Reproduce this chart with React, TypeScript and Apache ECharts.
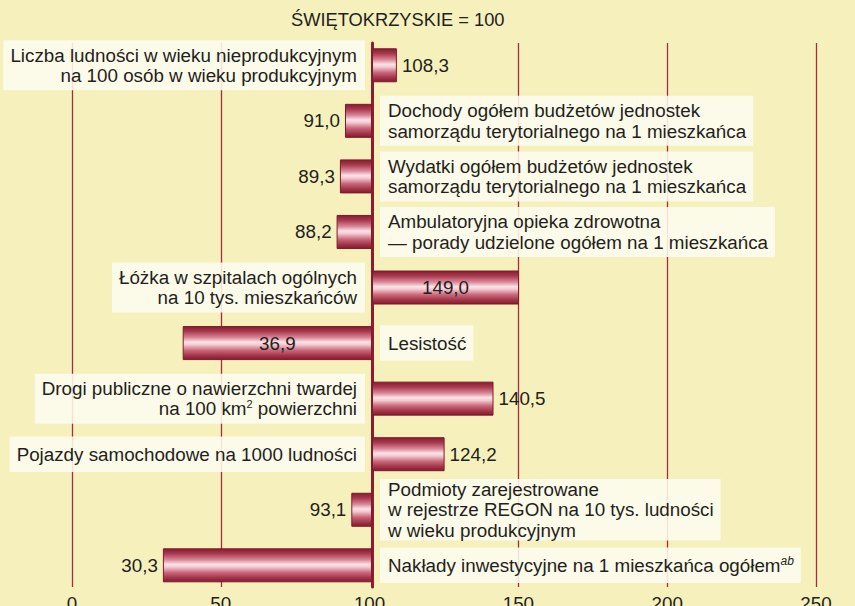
import React, { useEffect, useRef } from "react";
import * as echarts from "echarts";

const TITLE = "ŚWIĘTOKRZYSKIE = 100";
const BASE = 100;
const categories = [
  "Liczba ludności w wieku nieprodukcyjnym\nna 100 osób w wieku produkcyjnym",
  "Dochody ogółem budżetów jednostek\nsamorządu terytorialnego na 1 mieszkańca",
  "Wydatki ogółem budżetów jednostek\nsamorządu terytorialnego na 1 mieszkańca",
  "Ambulatoryjna opieka zdrowotna\n— porady udzielone ogółem na 1 mieszkańca",
  "Łóżka w szpitalach ogólnych\nna 10 tys. mieszkańców",
  "Lesistość",
  "Drogi publiczne o nawierzchni twardej\nna 100 km{sup|2} powierzchni",
  "Pojazdy samochodowe na 1000 ludności",
  "Podmioty zarejestrowane\nw rejestrze REGON na 10 tys. ludności\nw wieku produkcyjnym",
  "Nakłady inwestycyjne na 1 mieszkańca ogółem{supi|ab}",
];
const values = [108.3, 91.0, 89.3, 88.2, 149.0, 36.9, 140.5, 124.2, 93.1, 30.3];
const xTicks = [0, 50, 100, 150, 200, 250];

// value labels drawn inside the bar (layout choice)
const INSIDE = new Set([4, 5]);

const TEXT = "#231f20";
const BG = "#f6f0bc";
const BOX = "rgba(253,251,238,0.88)";
const GRID_RED = "#a0303d";
const AXIS_RED = "#8c1d2e";
const FONT = "'Liberation Sans', Arial, Helvetica, sans-serif";
const FS = 18.8;

const barGradient = new echarts.graphic.LinearGradient(0, 0, 0, 1, [
  { offset: 0, color: "#861c30" },
  { offset: 0.15, color: "#a93a50" },
  { offset: 0.33, color: "#d98596" },
  { offset: 0.47, color: "#fbe2e6" },
  { offset: 0.55, color: "#f4cbd2" },
  { offset: 0.72, color: "#c9677a" },
  { offset: 0.88, color: "#a23449" },
  { offset: 1, color: "#831b2f" },
]);

export default function App() {
  const ref = useRef<HTMLDivElement>(null);
  useEffect(() => {
    if (!ref.current) return;
    const chart = echarts.init(ref.current, null, { renderer: "svg" });
    const fmt = (v: number) => v.toFixed(1).replace(".", ",");
    const offsets = values.map((v) => +(v - BASE).toFixed(1));

    const catData = categories.map((name, i) => {
      const lines = name.split("\n").length;
      const vpad = lines === 1 ? 7.5 : lines === 2 ? 4.5 : 0;
      const right = values[i] < BASE;
      return {
        value: offsets[i],
        label: {
          position: right ? "right" : "left",
          distance: right ? 8 : 7,
          align: right ? "left" : "right",
          padding: right ? [vpad, 7, vpad, 8] : [vpad, 8, vpad, 7],
        },
      };
    });

    const valData = values.map((v, i) => ({
      value: offsets[i],
      label: {
        position: INSIDE.has(i) ? "inside" : v >= BASE ? "right" : "left",
      },
    }));

    chart.setOption({
      animation: false,
      backgroundColor: BG,
      title: {
        text: TITLE,
        left: 291,
        top: 10,
        padding: 0,
        textStyle: { fontFamily: FONT, fontSize: 18.3, fontWeight: "normal", color: TEXT },
      },
      grid: [
        { left: 72, right: 39, top: 43, bottom: 19, outerBoundsMode: "none", containLabel: false },
        { left: 72, right: 33, top: 37.5, bottom: 12.9, outerBoundsMode: "none", containLabel: false },
        { left: 72, right: 33, top: 43, bottom: 19, outerBoundsMode: "none", containLabel: false },
      ],
      xAxis: [
        {
          gridIndex: 0,
          type: "value",
          min: xTicks[0],
          max: xTicks[xTicks.length - 1],
          interval: xTicks[1] - xTicks[0],
          axisLine: { show: false },
          axisTick: { show: false },
          axisLabel: { margin: 7, fontSize: FS, fontFamily: FONT, color: TEXT },
          splitLine: {
            show: true,
            lineStyle: {
              width: 1.3,
              color: xTicks.map((t) => (t === BASE ? "rgba(0,0,0,0)" : GRID_RED)),
            },
          },
        },
        {
          gridIndex: 1,
          type: "value",
          min: xTicks[0] - BASE,
          max: xTicks[xTicks.length - 1] - BASE,
          show: false,
        },
        {
          gridIndex: 2,
          type: "value",
          min: xTicks[0] - BASE,
          max: xTicks[xTicks.length - 1] - BASE,
          show: false,
        },
      ],
      yAxis: [
        { gridIndex: 0, type: "value", show: false },
        {
          gridIndex: 1,
          type: "category",
          inverse: true,
          data: categories,
          show: false,
        },
        {
          gridIndex: 2,
          type: "category",
          inverse: true,
          data: categories,
          axisLine: { show: true, onZero: true, lineStyle: { color: AXIS_RED, width: 3 } },
          axisTick: { show: false },
          axisLabel: { show: false },
          splitLine: { show: false },
        },
      ],
      series: [
        {
          type: "bar",
          xAxisIndex: 1,
          yAxisIndex: 1,
          barWidth: 34,
          barGap: "-100%",
          data: catData,
          itemStyle: { color: "rgba(0,0,0,0)" },
          silent: true,
          z: 3,
          label: {
            show: true,
            formatter: (p: any) => categories[p.dataIndex],
            fontFamily: FONT,
            fontSize: FS,
            lineHeight: 20.5,
            color: TEXT,
            backgroundColor: BOX,
            rich: {
              sup: { fontFamily: FONT, fontSize: 11, lineHeight: 10, verticalAlign: "top", color: TEXT },
              supi: {
                fontFamily: FONT,
                fontSize: 12,
                fontStyle: "italic",
                lineHeight: 8,
                verticalAlign: "top",
                color: TEXT,
              },
            },
          },
        },
        {
          type: "bar",
          xAxisIndex: 1,
          yAxisIndex: 1,
          barWidth: 34,
          barGap: "-100%",
          data: valData,
          z: 2,
          itemStyle: { color: barGradient, borderColor: "#7e1a2c", borderWidth: 1 },
          label: {
            show: true,
            distance: 5,
            formatter: (p: any) => fmt(values[p.dataIndex]),
            fontFamily: FONT,
            fontSize: FS,
            color: TEXT,
          },
        },
      ],
    });
    return () => chart.dispose();
  }, []);
  return (
    <div
      ref={ref}
      style={{ position: "fixed", left: 0, top: 0, width: 855, height: 606 }}
    />
  );
}
